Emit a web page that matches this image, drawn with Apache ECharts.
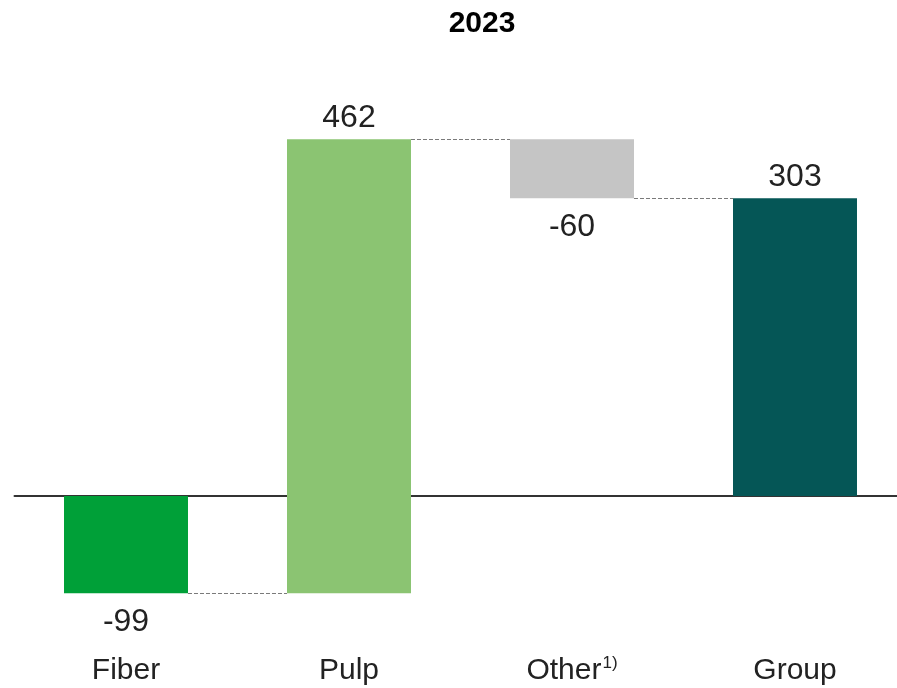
<!DOCTYPE html>
<html>
<head>
<meta charset="utf-8">
<script src="https://cdn.jsdelivr.net/npm/echarts@6/dist/echarts.min.js"></script>
<style>
  html, body { margin: 0; padding: 0; background: #fff; }
  #chart { width: 897px; height: 688px; }
</style>
</head>
<body>
<div id="chart"></div>
<script>
// Segment contributions, with the group total at the end
const categories = ['Fiber', 'Pulp', 'Other', 'Group'];
const deltas = [-99, 462, -60, 303];
const isTotal = [false, false, false, true];
const barColors = ['#00A038', '#8BC472', '#C5C5C5', '#055656'];

// Floating bar ranges: each step starts where the previous one ended; totals start at zero
const ranges = [];
let running = 0;
deltas.forEach(function (d, i) {
  if (isTotal[i]) {
    ranges.push([i, 0, d]);
    running = d;
  } else {
    ranges.push([i, running, running + d]);
    running += d;
  }
});

// Dashed connectors between neighbouring bars, at the level they share
const connectors = [];
for (let i = 0; i < ranges.length - 1; i++) {
  connectors.push([i, ranges[i][2]]);
}

const BAR_RATIO = 0.556;
const FONT = '"Liberation Sans", Arial, sans-serif';

const chart = echarts.init(document.getElementById('chart'));
chart.setOption({
  animation: false,
  title: {
    text: '2023',
    left: 477,
    top: 4,
    textAlign: 'center',
    textStyle: { fontFamily: FONT, fontSize: 30, fontWeight: 'bold', color: '#000' }
  },
  grid: { left: 14.5, right: -9.5, top: 102.9, height: 491.35, outerBoundsMode: 'none', containLabel: false },
  xAxis: {
    type: 'category',
    data: categories,
    axisLine: { onZero: true, lineStyle: { color: '#333', width: 2 } },
    axisTick: { show: false },
    axisLabel: {
      interval: 0,
      hideOverlap: false,
      margin: 61,
      fontFamily: FONT,
      fontSize: 30,
      color: '#222',
      formatter: function (v) {
        return v === 'Other' ? '{a|Other}{sup|1)}' : '{a|' + v + '}';
      },
      rich: {
        a: { fontFamily: FONT, fontSize: 30, color: '#222' },
        sup: { fontFamily: FONT, fontSize: 17, color: '#222', verticalAlign: 'top', padding: [0, 0, 10, 1] }
      }
    }
  },
  yAxis: {
    type: 'value',
    min: -100,
    max: 400,
    show: false,
    splitLine: { show: false }
  },
  series: [
    {
      type: 'custom',
      data: connectors,
      z: 1,
      renderItem: function (params, api) {
        const i = api.value(0);
        const band = api.size([1, 0])[0];
        const half = band * BAR_RATIO / 2;
        const p1 = api.coord([i, api.value(1)]);
        const p2 = api.coord([i + 1, api.value(1)]);
        const y = Math.round(p1[1]) + 0.5;
        return {
          type: 'line',
          shape: { x1: p1[0] + half, y1: y, x2: p2[0] - half, y2: y },
          style: { stroke: '#7a7a7a', lineWidth: 1, lineDash: [4, 2] }
        };
      }
    },
    {
      type: 'custom',
      data: ranges,
      z: 2,
      renderItem: function (params, api) {
        const i = api.value(0);
        const from = api.value(1);
        const to = api.value(2);
        const band = api.size([1, 0])[0];
        const w = band * BAR_RATIO;
        const pa = api.coord([i, from]);
        const pb = api.coord([i, to]);
        const top = Math.min(pa[1], pb[1]);
        const bottom = Math.max(pa[1], pb[1]);
        const delta = deltas[params.dataIndex];
        const up = delta >= 0;
        return {
          type: 'group',
          children: [
            {
              type: 'rect',
              shape: { x: pa[0] - w / 2, y: top, width: w, height: bottom - top },
              style: { fill: barColors[params.dataIndex] }
            },
            {
              type: 'text',
              style: {
                text: String(delta),
                x: pa[0],
                y: up ? top - 5 : bottom + 13,
                align: 'center',
                verticalAlign: up ? 'bottom' : 'top',
                fontFamily: FONT,
                fontSize: 32,
                fill: '#222'
              }
            }
          ]
        };
      }
    }
  ]
});
</script>
</body>
</html>
